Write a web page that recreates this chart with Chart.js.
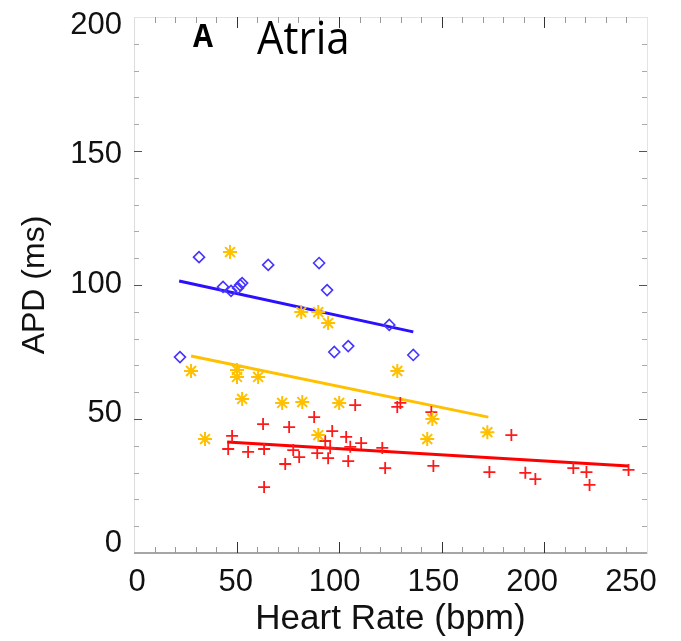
<!DOCTYPE html>
<html>
<head>
<meta charset="utf-8">
<script src="https://cdn.jsdelivr.net/npm/chart.js@4"></script>
<style>
  html, body { margin: 0; padding: 0; background: #fff; }
</style>
</head>
<body>
<canvas id="apdChart" width="681" height="641"></canvas>
<script>
// axis ticks
const xTickLabels = [0, 50, 100, 150, 200, 250];
const yTickLabels = [0, 50, 100, 150, 200];

// blue diamonds
const blueRate = [22.4, 31.7, 43.4, 47.3, 50.7, 51.7, 52.7, 65.4, 90.2, 94.1, 97.6, 104.4, 124.4, 136.1];
const blueApd  = [73.1, 110.4, 99.3, 97.8, 98.9, 100.0, 100.7, 107.5, 108.2, 98.1, 75.0, 77.2, 85.1, 73.9];

// yellow asterisks
const yellowRate = [27.8, 34.6, 46.8, 50.2, 50.2, 52.7, 60.5, 72.2, 81.5, 82.0, 89.8, 89.8, 94.6, 100.0, 128.3, 142.9, 145.4, 172.2];
const yellowApd  = [67.9, 42.5, 112.3, 68.3, 65.7, 57.5, 65.7, 56.0, 89.9, 56.3, 89.9, 44.0, 85.8, 56.0, 67.9, 42.5, 50.0, 45.1];

// red crosses
const redRate = [45.9, 47.8, 55.6, 62.9, 63.4, 63.4, 73.7, 75.6, 77.6, 80.5, 87.8, 89.3, 93.2, 94.6, 95.6, 96.6,
                 103.4, 104.4, 105.4, 107.8, 110.7, 121.0, 122.4, 128.3, 129.8, 144.9, 145.9, 173.2, 183.9, 190.7,
                 195.6, 214.1, 220.5, 222.0, 241.0];
const redApd  = [38.8, 43.7, 37.7, 48.1, 38.8, 24.6, 33.2, 47.0, 38.4, 35.8, 50.7, 37.3, 41.8, 35.4, 39.2, 45.5,
                 43.3, 34.3, 39.6, 55.2, 41.0, 39.2, 31.7, 54.5, 56.0, 52.6, 32.5, 30.2, 44.0, 29.9,
                 27.6, 31.7, 30.2, 25.4, 31.0];

// fitted lines (end points)
const blueFitRate = [22.0, 136.1];
const blueFitApd  = [101.5, 82.5];
const yellowFitRate = [27.8, 172.7];
const yellowFitApd  = [73.5, 50.7];
const redFitRate = [45.4, 241.0];
const redFitApd  = [41.4, 32.5];

function toPoints(xs, ys) {
  return xs.map((x, i) => ({ x: x, y: ys[i] }));
}

// box and inward ticks (on the data axes)
const framePlugin = {
  id: 'frame',
  beforeDatasetsDraw(chart) {
    const { ctx, chartArea: a, scales } = chart;
    const x = scales.x, y = scales.y;
    const seg = (x1, y1, x2, y2) => { ctx.beginPath(); ctx.moveTo(x1, y1); ctx.lineTo(x2, y2); ctx.stroke(); };
    ctx.save();
    ctx.lineWidth = 1;
    ctx.strokeStyle = '#e4e4e4';
    ctx.strokeRect(a.left + 0.5, a.top + 0.5, a.right - a.left, a.bottom - a.top);
    ctx.strokeStyle = '#dcdcdc';
    seg(a.left + 0.5, a.top, a.left + 0.5, a.bottom);
    ctx.strokeStyle = '#a6a6a6';
    ctx.lineWidth = 2;
    seg(a.left, a.bottom, a.right, a.bottom);
    ctx.lineWidth = 1;
    for (let v = 10; v < 250; v += 10) {
      const px = Math.round(x.getPixelForValue(v)) + 0.5;
      const major = v % 50 === 0;
      ctx.strokeStyle = major ? '#333' : '#999';
      seg(px, a.bottom, px, a.bottom - (major ? 11 : 6));
      seg(px, a.top, px, a.top + (major ? 11 : 6));
    }
    for (let v = 10; v < 200; v += 10) {
      const py = Math.round(y.getPixelForValue(v)) + 0.5;
      const major = v % 50 === 0;
      ctx.strokeStyle = major ? '#555' : '#aaa';
      seg(a.left, py, a.left + (major ? 8 : 5), py);
      seg(a.right, py, a.right - (major ? 8 : 5), py);
    }
    ctx.restore();
  }
};

// panel label "A  Atria"
const panelLabel = {
  id: 'panelLabel',
  afterDraw(chart) {
    const ctx = chart.ctx;
    ctx.save();
    ctx.fillStyle = '#000';
    ctx.textBaseline = 'alphabetic';
    ctx.save();
    ctx.translate(193, 47);
    ctx.scale(1, 1.1);
    ctx.font = 'bold 29px "Open Sans"';
    ctx.fillText('A', 0, 0);
    ctx.restore();
    ctx.translate(257, 54);
    ctx.scale(1, 1.1);
    ctx.font = '42px "Open Sans"';
    ctx.fillText('Atria', 0, 0);
    ctx.restore();
  }
};

const tickFont = { family: '"Liberation Sans", Arial, sans-serif', size: 31, lineHeight: 1 };

// the printed labels sit slightly inside the tick marks, so they get their own axes
const noPad = (scale) => {
  scale.paddingLeft = 0; scale.paddingRight = 0;
  scale.paddingTop = 0; scale.paddingBottom = 0;
};

const ctx = document.getElementById('apdChart');
new Chart(ctx, {
  type: 'scatter',
  data: {
    datasets: [
      {
        label: 'blue',
        data: toPoints(blueRate, blueApd),
        pointStyle: 'rectRot',
        pointRadius: 5.5,
        borderColor: '#4634ff',
        backgroundColor: 'rgba(0,0,0,0)',
        borderWidth: 1.6
      },
      {
        label: 'yellow',
        data: toPoints(yellowRate, yellowApd),
        pointStyle: 'star',
        pointRadius: 7,
        borderColor: '#ffc000',
        backgroundColor: '#ffc000',
        borderWidth: 2
      },
      {
        label: 'red',
        data: toPoints(redRate, redApd),
        pointStyle: 'cross',
        pointRadius: 6,
        borderColor: '#ff1a1a',
        backgroundColor: '#ff1a1a',
        borderWidth: 1.8
      },
      {
        label: 'blue fit',
        data: toPoints(blueFitRate, blueFitApd),
        showLine: true,
        pointRadius: 0,
        borderColor: '#2a10ff',
        borderWidth: 3
      },
      {
        label: 'yellow fit',
        data: toPoints(yellowFitRate, yellowFitApd),
        showLine: true,
        pointRadius: 0,
        borderColor: '#ffc000',
        borderWidth: 3
      },
      {
        label: 'red fit',
        data: toPoints(redFitRate, redFitApd),
        showLine: true,
        pointRadius: 0,
        borderColor: '#ff0000',
        borderWidth: 3
      }
    ]
  },
  options: {
    responsive: false,
    animation: false,
    devicePixelRatio: 1,
    layout: {
      padding: { top: 17, right: 34, bottom: 0, left: 0 }
    },
    plugins: {
      legend: { display: false },
      tooltip: { enabled: false }
    },
    scales: {
      x: { type: 'linear', min: 0, max: 250, display: false },
      y: { type: 'linear', min: 0, max: 200, display: false },
      xl: {
        type: 'linear',
        axis: 'x',
        position: 'bottom',
        min: -1.52,
        max: 258.1,
        afterBuildTicks: (scale) => { scale.ticks = xTickLabels.map(v => ({ value: v })); },
        afterFit: (scale) => { scale.height = 88; noPad(scale); },
        grid: { display: false, drawTicks: false },
        border: { display: false },
        ticks: { font: tickFont, color: '#111', padding: 14, maxRotation: 0 },
        title: {
          display: true,
          text: 'Heart Rate (bpm)',
          font: { family: '"Liberation Sans", Arial, sans-serif', size: 35, lineHeight: 1.2 },
          color: '#111',
          padding: { top: 0, bottom: 1 }
        }
      },
      yl: {
        type: 'linear',
        axis: 'y',
        position: 'left',
        min: -3.66,
        max: 203.1,
        afterBuildTicks: (scale) => { scale.ticks = yTickLabels.map(v => ({ value: v })); },
        afterFit: (scale) => { scale.width = 134; noPad(scale); },
        grid: { display: false, drawTicks: false },
        border: { display: false },
        ticks: { font: tickFont, color: '#111', padding: 12 },
        title: {
          display: true,
          text: 'APD (ms)',
          font: { family: '"Liberation Sans", Arial, sans-serif', size: 32, lineHeight: 1.2 },
          color: '#111',
          padding: { top: 16, bottom: 0 }
        }
      }
    }
  },
  plugins: [framePlugin, panelLabel]
});
</script>
</body>
</html>
